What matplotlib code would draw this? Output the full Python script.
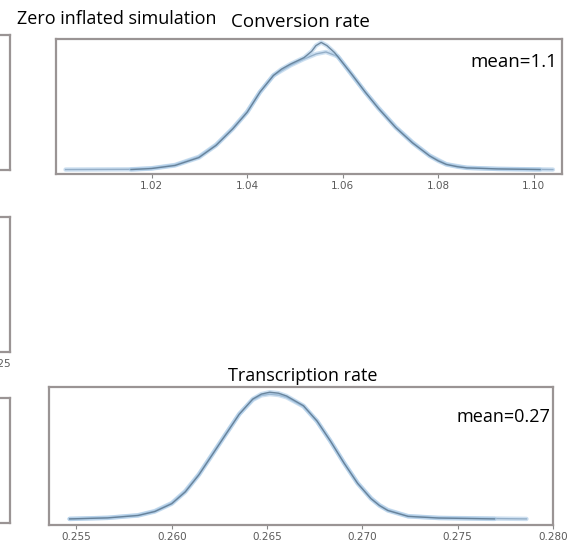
import matplotlib
matplotlib.use("Agg")
import matplotlib.pyplot as plt

W, H = 573, 550
DPI = 100

# Posterior density of the conversion rate (two chains, relative height)
conv_x_a = [1.0157, 1.0200, 1.0249, 1.0299, 1.0335, 1.0370, 1.0400, 1.0427, 1.0455,
            1.0472, 1.0491, 1.0519, 1.0535, 1.0544, 1.0555, 1.0567, 1.0583, 1.0600,
            1.0619, 1.0647, 1.0675, 1.0711, 1.0746, 1.0782, 1.0800, 1.0817, 1.0840,
            1.0860, 1.0925, 1.1013]
conv_y_a = [0.000, 0.008, 0.032, 0.094, 0.190, 0.320, 0.450, 0.610, 0.740,
            0.790, 0.830, 0.880, 0.930, 0.975, 1.000, 0.975, 0.920, 0.840,
            0.750, 0.610, 0.480, 0.330, 0.210, 0.107, 0.068, 0.040, 0.022,
            0.013, 0.005, 0.000]
conv_x_b = [1.0020, 1.0157, 1.0200, 1.0249, 1.0299, 1.0335, 1.0370, 1.0400, 1.0427,
            1.0455, 1.0491, 1.0519, 1.0545, 1.0565, 1.0590, 1.0619, 1.0647, 1.0675,
            1.0711, 1.0746, 1.0782, 1.0817, 1.0860, 1.0925, 1.1040]
conv_y_b = [0.000, 0.002, 0.010, 0.036, 0.100, 0.195, 0.325, 0.455, 0.610,
            0.740, 0.820, 0.870, 0.910, 0.925, 0.890, 0.745, 0.610, 0.485,
            0.335, 0.215, 0.110, 0.042, 0.014, 0.005, 0.000]
conv_ticks = [1.02, 1.04, 1.06, 1.08, 1.10]
conv_tick_labels = ["1.02", "1.04", "1.06", "1.08", "1.10"]
conv_xlim = (1.0000, 1.1059)
conv_mean = "mean=1.1"

# Posterior density of the transcription rate (two chains, relative height)
tr_x_a = [0.25464, 0.25663, 0.25823, 0.25911, 0.26000, 0.26071, 0.26142, 0.26213,
          0.26283, 0.26354, 0.26425, 0.26470, 0.26514, 0.26560, 0.26602, 0.26691,
          0.26762, 0.26833, 0.26904, 0.26975, 0.27045, 0.27090, 0.27134, 0.27240,
          0.27400, 0.27693]
tr_y_a = [0.000, 0.008, 0.027, 0.058, 0.120, 0.213, 0.347, 0.507,
          0.666, 0.826, 0.946, 0.985, 1.000, 0.992, 0.970, 0.893,
          0.773, 0.613, 0.440, 0.280, 0.160, 0.105, 0.066, 0.020,
          0.007, 0.000]
tr_x_b = [0.25464, 0.25663, 0.25823, 0.25911, 0.26000, 0.26071, 0.26142, 0.26213,
          0.26283, 0.26354, 0.26425, 0.26470, 0.26514, 0.26560, 0.26602, 0.26691,
          0.26762, 0.26833, 0.26904, 0.26975, 0.27045, 0.27090, 0.27134, 0.27240,
          0.27400, 0.27861]
tr_y_b = [0.000, 0.009, 0.029, 0.062, 0.125, 0.220, 0.352, 0.512,
          0.670, 0.828, 0.940, 0.975, 0.985, 0.978, 0.960, 0.888,
          0.770, 0.612, 0.442, 0.284, 0.164, 0.108, 0.070, 0.022,
          0.008, 0.000]
tr_ticks = [0.255, 0.260, 0.265, 0.270, 0.275, 0.280]
tr_tick_labels = ["0.255", "0.260", "0.265", "0.270", "0.275", "0.280"]
tr_xlim = (0.25356, 0.2800)
tr_mean = "mean=0.27"

# Left-column panel tick (only the edge of that column is in frame)
left_ticks = [0.025]
left_tick_labels = ["0.025"]

title_font = ["Open Sans", "DejaVu Sans"]
spine_color = "#9a9494"
tick_color = "#5a5a5a"


def px_axes(fig, x0, y0, x1, y1):
    """Add axes given pixel edges measured from the top-left corner."""
    return fig.add_axes([x0 / W, 1 - y1 / H, (x1 - x0) / W, (y1 - y0) / H])


def style(ax):
    for s in ax.spines.values():
        s.set_color(spine_color)
        s.set_linewidth(1.6)
    ax.set_yticks([])
    ax.tick_params(axis="x", length=3, width=0.8, color="#888888",
                   labelsize=7.5, labelcolor=tick_color, pad=2)


def draw_chain(ax, x, y, core):
    ax.plot(x, y, color="#a6c8e6", lw=3.2, alpha=0.55,
            solid_capstyle="round", solid_joinstyle="round")
    ax.plot(x, y, color=core, lw=1.0, alpha=0.85, solid_joinstyle="round")


fig = plt.figure(figsize=(W / DPI, H / DPI), dpi=DPI)
fig.patch.set_facecolor("white")

# Edge of the left column of panels
for (y0, y1) in [(35, 170), (217, 352), (398, 523)]:
    ax = px_axes(fig, -230, y0, 9.5, y1)
    style(ax)
    ax.set_xlim(0, 0.0265)
    ax.set_ylim(0, 1)
    if y0 == 217:
        ax.set_xticks(left_ticks)
        ax.set_xticklabels(left_tick_labels)
    else:
        ax.set_xticks([])

# Conversion rate panel
ax1 = px_axes(fig, 56, 39, 562, 174)
style(ax1)
draw_chain(ax1, conv_x_b, conv_y_b, "#8aa6c0")
draw_chain(ax1, conv_x_a, conv_y_a, "#5d7890")
ax1.set_xlim(*conv_xlim)
ax1.set_ylim(-0.035, 1.027)
ax1.set_xticks(conv_ticks)
ax1.set_xticklabels(conv_tick_labels)
ax1.text(0.99, 0.83, conv_mean, transform=ax1.transAxes, ha="right", va="center",
         fontsize=13.5, family=title_font, color="black")

# Transcription rate panel
ax2 = px_axes(fig, 49, 387, 553, 525)
style(ax2)
draw_chain(ax2, tr_x_b, tr_y_b, "#8aa6c0")
draw_chain(ax2, tr_x_a, tr_y_a, "#5d7890")
ax2.set_xlim(*tr_xlim)
ax2.set_ylim(-0.048, 1.041)
ax2.set_xticks(tr_ticks)
ax2.set_xticklabels(tr_tick_labels)
ax2.text(0.995, 0.78, tr_mean, transform=ax2.transAxes, ha="right", va="center",
         fontsize=13, family=title_font, color="black")

# Titles
fig.text(117 / W, 1 - 19 / H, "Zero inflated simulation", ha="center", va="center",
         fontsize=13, family=title_font, color="black")
fig.text(300 / W, 1 - 22 / H, "Conversion rate", ha="center", va="center",
         fontsize=13.5, family=title_font, color="black")
fig.text(303 / W, 1 - 376 / H, "Transcription rate", ha="center", va="center",
         fontsize=13, family=title_font, color="black")

fig.savefig("out.png", dpi=DPI, facecolor="white")
